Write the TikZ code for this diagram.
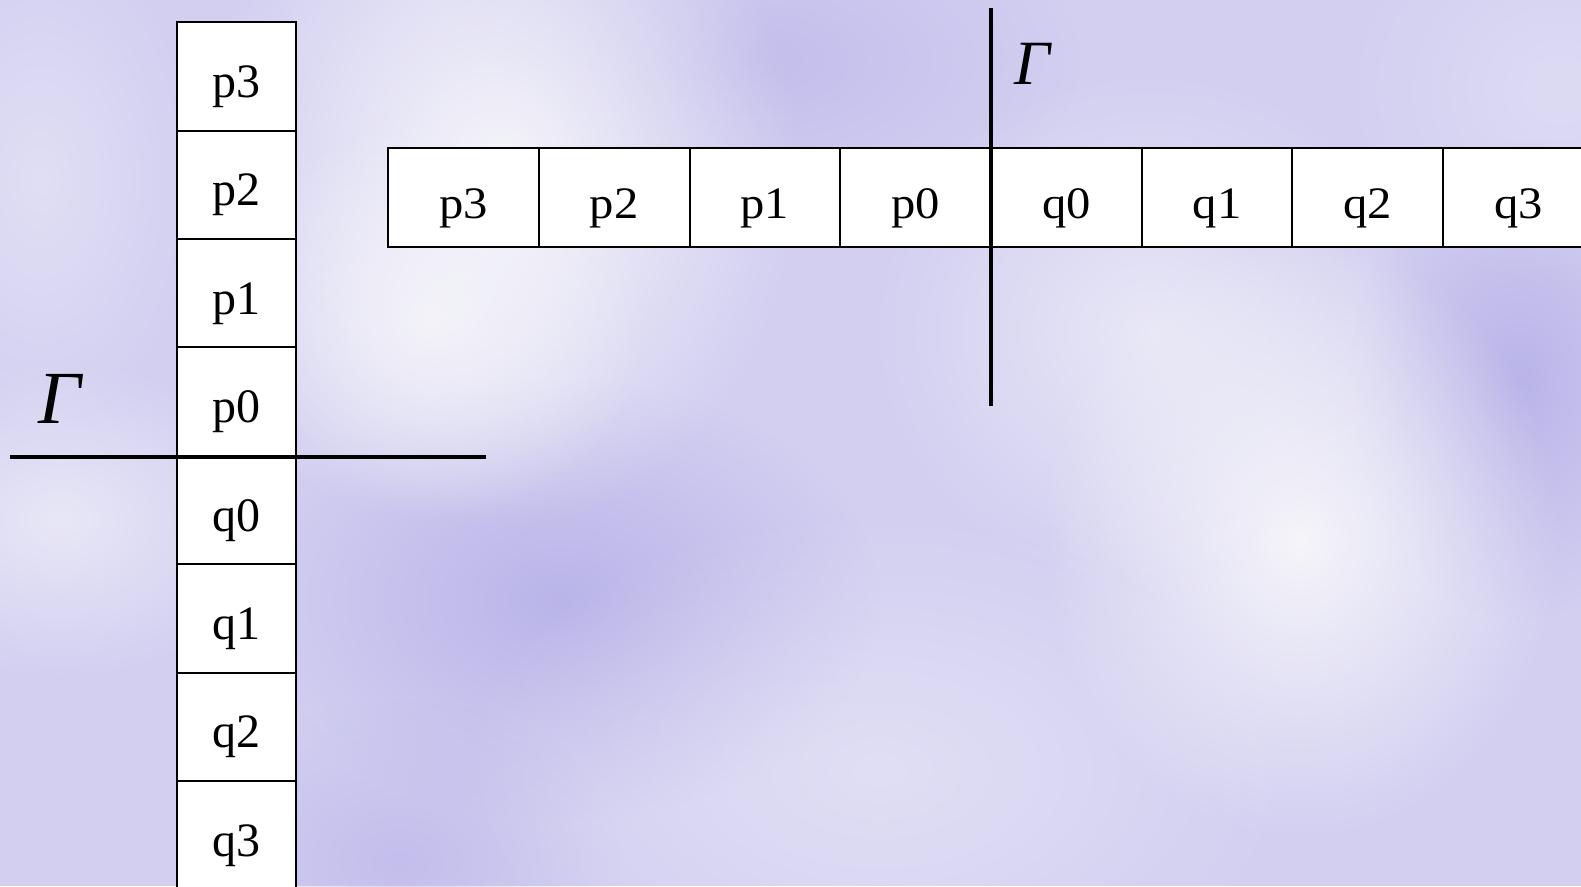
\documentclass[tikz,border=0pt]{standalone}
\usepackage{fontspec}
\setmainfont{Liberation Serif}
\usepackage{graphicx}
\usetikzlibrary{fadings}
\definecolor{bg}{RGB}{210,207,241}
\definecolor{bgd}{RGB}{180,174,231}
\definecolor{bgl}{RGB}{247,247,250}
\tikzfading[name=softblob, inner color=transparent!0, outer color=transparent!100]
\newcommand{\wide}[1]{\scalebox{1.08}[1]{#1}}
\begin{document}
\begin{tikzpicture}[x=1pt,y=-1pt,
  cellbase/.style={draw=black, fill=white, line width=2pt, inner sep=0pt, text depth=0pt},
  vcell/.style={cellbase, minimum width=119pt, minimum height=108.4pt,
    text height=42pt, font=\fontsize{48}{56}\selectfont},
  hcell/.style={cellbase, minimum width=150.7pt, minimum height=99pt,
    text height=40.8pt, font=\fontsize{45}{54}\selectfont},
  axisline/.style={draw=black, line width=3.6pt},
  gam/.style={inner sep=0pt, text depth=0pt}]
\useasboundingbox (0,0) rectangle (1581,886);
\clip (0,0) rectangle (1581,886);
% background
\fill[bg] (0,0) rectangle (1581,886);
\fill[bgd, path fading=softblob, fill opacity=0.8] (560,600) ellipse [x radius=320, y radius=220];
\fill[bgd, path fading=softblob, fill opacity=0.8] (1520,380) ellipse [x radius=170, y radius=240];
\fill[bgd, path fading=softblob, fill opacity=0.5] (760,60) ellipse [x radius=320, y radius=170];
\fill[bgd, path fading=softblob, fill opacity=0.5] (400,860) ellipse [x radius=220, y radius=160];
\fill[bgl, path fading=softblob, fill opacity=0.95] (500,170) ellipse [x radius=300, y radius=360];
\fill[bgl, path fading=softblob, fill opacity=0.8] (430,320) ellipse [x radius=220, y radius=200];
\fill[bgl, path fading=softblob, fill opacity=0.95] (1300,540) ellipse [x radius=260, y radius=300];
\fill[bgl, path fading=softblob, fill opacity=0.6] (1150,330) ellipse [x radius=280, y radius=260];
\fill[bgl, path fading=softblob, fill opacity=0.6] (60,520) ellipse [x radius=220, y radius=160];
\fill[bgl, path fading=softblob, fill opacity=0.4] (40,180) ellipse [x radius=160, y radius=260];
\fill[bgl, path fading=softblob, fill opacity=0.4] (880,770) ellipse [x radius=420, y radius=260];
\fill[bgl, path fading=softblob, fill opacity=0.3] (1560,90) ellipse [x radius=220, y radius=200];
% vertical column
\node[vcell] (vp3) at (236,76.4)  {p3};
\node[vcell] (vp2) at (236,184.8) {p2};
\node[vcell] (vp1) at (236,293.2) {p1};
\node[vcell] (vp0) at (236,401.6) {p0};
\node[vcell] (vq0) at (236,510)   {q0};
\node[vcell] (vq1) at (236,618.4) {q1};
\node[vcell] (vq2) at (236,726.8) {q2};
\node[vcell] (vq3) at (236,835.2) {q3};
% horizontal row
\node[hcell] (hp3) at (463.5,197.6)  {\wide{p3}};
\node[hcell] (hp2) at (614.2,197.6)  {\wide{p2}};
\node[hcell] (hp1) at (764.9,197.6)  {\wide{p1}};
\node[hcell] (hp0) at (915.6,197.6)  {\wide{p0}};
\node[hcell] (hq0) at (1066.3,197.6) {\wide{q0}};
\node[hcell] (hq1) at (1217,197.6)   {\wide{q1}};
\node[hcell] (hq2) at (1367.7,197.6) {\wide{q2}};
\node[hcell] (hq3) at (1518.4,197.6) {\wide{q3}};
% Gamma lines
\coordinate (hl) at (10,456.8);
\coordinate (hr) at (486,456.8);
\coordinate (vt) at (991.2,8);
\coordinate (vb) at (991.2,406);
\draw[axisline] (hl) -- (hr);
\draw[axisline] (vt) -- (vb);
\node[gam, font=\fontsize{75}{80}\selectfont\itshape] (g1) at (60,399) {Γ};
\node[gam, font=\fontsize{63}{70}\selectfont\itshape] (g2) at (1032,64) {Γ};
\end{tikzpicture}
\end{document}
